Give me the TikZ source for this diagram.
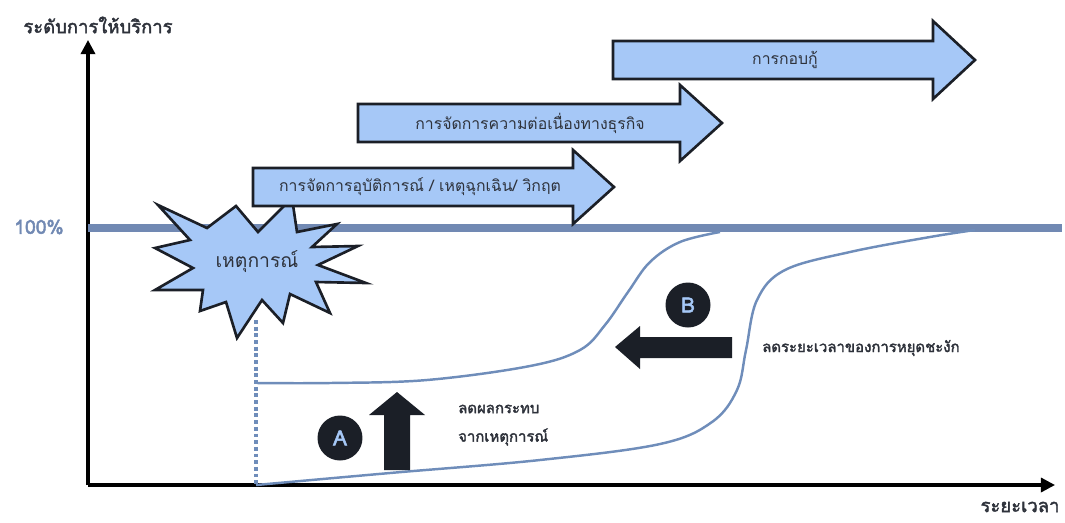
\documentclass[tikz,border=0pt]{standalone}
\usepackage{fontspec}
\newfontfamily\thaifont[Script=Thai]{Loma}
\newfontfamily\thaiheavy[Script=Thai, FakeBold=2.2]{Loma}
\usetikzlibrary{arrows.meta, positioning}

\definecolor{arrowfill}{HTML}{A6C8F7}
\definecolor{levelblue}{HTML}{7189B3}
\definecolor{curveblue}{HTML}{6F8DBA}
\definecolor{inkdark}{HTML}{1B1F27}
\definecolor{textgray}{HTML}{2E323B}

\tikzset{
  axisline/.style={line width=1.8pt, -{Triangle[length=8pt,width=8pt]}},
  blockarrow/.style={draw=inkdark, line width=1.5pt, fill=arrowfill, line join=miter},
  darkarrow/.style={fill=inkdark, draw=none},
  phase/.style={font=\thaifont\fontsize{9}{11}\selectfont, text=textgray},
  note/.style={font=\thaiheavy\fontsize{8.5}{10}\selectfont, text=textgray, anchor=west},
  axislabel/.style={font=\thaiheavy\fontsize{10.5}{12}\selectfont, text=textgray},
  badge/.style={circle, fill=inkdark, text=arrowfill, minimum size=0.9cm, inner sep=0pt,
    font=\thaiheavy\fontsize{12}{14}\selectfont},
  trend/.style={draw=curveblue, line width=1.4pt, smooth, tension=0.6}
}

\begin{document}
\begin{tikzpicture}[x=0.02cm, y=-0.02cm]
  \useasboundingbox (0,0) rectangle (1065,522);

  % axes
  \coordinate (origin) at (88,485);
  \coordinate (ytop) at (88,40);
  \coordinate (xend) at (1055,485);
  \draw[axisline] (origin) -- (ytop);
  \draw[axisline] (origin) -- (xend);
  \node[axislabel] (ylab) at (98,25) {ระดับการให้บริการ};
  \node[axislabel] (xlab) at (1020,507) {ระยะเวลา};

  % 100% level
  \coordinate (full) at (88,228);
  \coordinate (fullend) at (1062,228);
  \draw[levelblue, line width=5pt] (full) -- (fullend);
  \node[font=\thaiheavy\fontsize{11}{13}\selectfont, text=levelblue] (pct) at (39,227) {100\%};

  % service curves
  \draw[curveblue, line width=2pt, dash pattern=on 2.2pt off 1.6pt] (256,320) -- (256,485);
  \draw[trend] plot coordinates {(257,383) (330,383) (427,380) (530,366) (580,350)
    (605,325) (628,292) (650,262) (680,242) (720,232)};
  \draw[trend] plot coordinates {(256,485) (390,473) (540,460) (660,444) (712,422)
    (737,390) (746,350) (757,300) (785,270) (850,252) (930,237) (975,230)};

  % event burst
  \draw[blockarrow] (158,205) -- (207,228) -- (236,206) -- (258,232) -- (292,198)
    -- (297,232) -- (337,224) -- (312,247) -- (358,246) -- (318,265) -- (366,283)
    -- (316,282) -- (330,313) -- (290,294) -- (283,323) -- (262,300) -- (237,338)
    -- (226,302) -- (200,311) -- (203,290) -- (155,290) -- (193,268) -- (155,248)
    -- (190,240) -- cycle;
  \node[phase, font=\thaifont\fontsize{11}{13}\selectfont] (event) at (257,262) {เหตุการณ์};

  % phase arrows
  \draw[blockarrow] (253,168) -- (573,168) -- (573,150) -- (614,187) -- (573,224)
    -- (573,206) -- (253,206) -- cycle;
  \node[phase] (incident) at (420,187) {การจัดการอุบัติการณ์ / เหตุฉุกเฉิน/ วิกฤต};
  \draw[blockarrow] (358,104) -- (680,104) -- (680,85) -- (722,123) -- (680,161)
    -- (680,142) -- (358,142) -- cycle;
  \node[phase] (bcm) at (530,123) {การจัดการความต่อเนื่องทางธุรกิจ};
  \draw[blockarrow] (613,41) -- (933,41) -- (933,21) -- (975,60) -- (933,99)
    -- (933,79) -- (613,79) -- cycle;
  \node[phase] (recovery) at (785,60) {การกอบกู้};

  % A: reduce impact
  \fill[darkarrow] (384,470) -- (384,415) -- (369,415) -- (397,392) -- (425,415)
    -- (410,415) -- (410,470) -- cycle;
  \node[badge] (A) at (340,438) {A};
  \node[note] (impact1) at (452,409) {ลดผลกระทบ};
  \node[note] (impact2) at (452,437) {จากเหตุการณ์};

  % B: reduce downtime
  \fill[darkarrow] (732,337) -- (640,337) -- (640,326) -- (615,347) -- (640,369)
    -- (640,358) -- (732,358) -- cycle;
  \node[badge] (B) at (688,305) {B};
  \node[note] (downtime) at (756,348) {ลดระยะเวลาของการหยุดชะงัก};
\end{tikzpicture}
\end{document}
